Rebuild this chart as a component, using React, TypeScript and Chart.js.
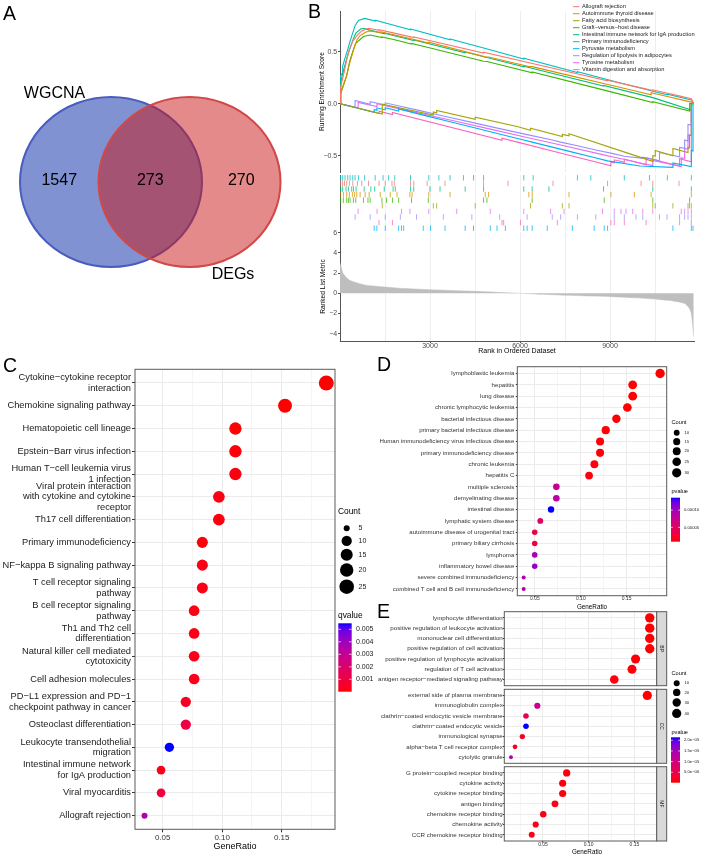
import { useEffect, useRef } from 'react';
import { Chart, registerables } from 'chart.js';

Chart.register(...registerables);

const W = 702;
const H = 858;
const FONT = '"Liberation Sans", Arial, Helvetica, sans-serif';
const MINUS = '\u2212';
Chart.defaults.font.family = FONT;

// ---------------- Panel A: WGCNA vs DEGs overlap ----------------
const vennSetNames = ['WGCNA', 'DEGs'];
const vennRegionCounts = [1547, 273, 270]; // WGCNA only, shared, DEGs only

// ---------------- Panel B: GSEA running enrichment ----------------
const gseaSetNames = [
  'Allograft rejection',
  'Autoimmune thyroid disease',
  'Fatty acid biosynthesis',
  'Graft\u2212versus\u2212host disease',
  'Intestinal immune network for IgA production',
  'Primary immunodeficiency',
  'Pyruvate metabolism',
  'Regulation of lipolysis in adipocytes',
  'Tyrosine metabolism',
  'Vitamin digestion and absorption',
];
const gseaColors = ['#F8766D', '#D89000', '#A3A500', '#39B600', '#00BF7D', '#00BFC4', '#00B0F6', '#9590FF', '#E76BF3', '#FF62BC'];

// running enrichment score: [rank, score]
const esAllograft = [[0,0],[22,0.16],[89,0.24],[150,0.32],[223,0.42],[313,0.52],[425,0.6],[581,0.66],[726,0.7],[950,0.725],[1301,0.705],[1301,0.712],[1810,0.678],[2458,0.635],[2458,0.642],[2905,0.612],[4786,0.487],[4786,0.494],[7100,0.34],[8919,0.219],[8919,0.226],[10036,0.152],[10427,0.126],[10427,0.133],[11300,0.075],[11711,0.048],[11790,0]];
const esAutoimmune = [[0,0],[0,0.08],[112,0.17],[223,0.27],[313,0.38],[413,0.48],[486,0.55],[559,0.61],[670,0.655],[838,0.685],[972,0.7],[1341,0.685],[1341,0.693],[2329,0.626],[2960,0.583],[2960,0.59],[4842,0.45],[4954,0.448],[6294,0.358],[6406,0.356],[7634,0.272],[9031,0.177],[9813,0.124],[10371,0.086],[10371,0.105],[10874,0.071],[11711,0.015],[11790,0]];
const esFattyAcid = [[0,0],[1410,-0.1],[1410,-0.005],[3110,-0.11],[3110,-0.08],[3222,-0.088],[3222,-0.065],[4507,-0.15],[4507,-0.13],[5903,-0.22],[6350,-0.255],[6350,-0.235],[7411,-0.315],[7411,-0.295],[7634,-0.31],[7634,-0.29],[10427,-0.555],[10427,-0.5],[10508,-0.505],[10508,-0.45],[11097,-0.5],[11097,-0.43],[11600,-0.47],[11600,-0.42],[11650,-0.425],[11650,-0.3],[11711,-0.305],[11711,0]];
const esGraft = [[0,0],[22,0.1],[112,0.18],[223,0.27],[279,0.35],[335,0.42],[447,0.52],[525,0.58],[782,0.645],[1005,0.66],[1397,0.635],[1397,0.642],[1748,0.62],[1955,0.605],[2384,0.574],[2384,0.58],[2943,0.54],[4786,0.408],[4898,0.406],[6406,0.298],[6406,0.304],[8807,0.13],[10427,0.012],[10427,0.018],[11655,-0.072],[11655,0],[11790,0]];
const esIntestinal = [[0,0],[22,0.2],[89,0.29],[201,0.41],[279,0.49],[391,0.58],[452,0.63],[536,0.68],[700,0.72],[805,0.722],[1028,0.705],[1475,0.672],[1475,0.678],[2458,0.606],[2458,0.612],[3334,0.55],[4172,0.49],[4172,0.496],[6126,0.354],[6126,0.36],[6964,0.3],[8785,0.17],[8785,0.176],[10427,0.058],[11711,-0.06],[11711,0],[11790,0]];
const esPrimaryImmuno = [[0,0],[22,0.27],[89,0.3],[89,0.36],[168,0.44],[257,0.52],[335,0.6],[425,0.68],[503,0.75],[615,0.8],[821,0.82],[1173,0.795],[1173,0.803],[2351,0.71],[2351,0.718],[3669,0.615],[3669,0.623],[4786,0.535],[6126,0.43],[6126,0.438],[7914,0.3],[7914,0.308],[9477,0.19],[10911,0.085],[10911,0.092],[11711,0.035],[11790,0]];
const esPyruvate = [[0,0],[1140,-0.083],[1140,-0.058],[1229,-0.064],[1229,-0.04],[1508,-0.06],[1508,-0.038],[1955,-0.07],[1955,-0.05],[2123,-0.062],[2775,-0.11],[3017,-0.127],[3501,-0.162],[4172,-0.21],[4451,-0.23],[5009,-0.27],[5512,-0.306],[6126,-0.35],[6406,-0.37],[6908,-0.406],[7746,-0.466],[8472,-0.518],[8919,-0.55],[10000,-0.6],[11097,-0.612],[11097,-0.57],[11711,-0.605],[11711,-0.45],[11767,-0.455],[11767,0]];
const esLipolysis = [[0,0],[503,-0.035],[503,0.03],[1005,-0.005],[1005,0.02],[1508,-0.012],[1508,0.008],[2011,-0.024],[2552,-0.06],[3446,-0.118],[4395,-0.18],[5322,-0.24],[6238,-0.298],[7076,-0.35],[7355,-0.37],[7914,-0.405],[8528,-0.445],[9142,-0.483],[9477,-0.505],[10092,-0.525],[10092,-0.515],[10650,-0.55],[10650,-0.47],[11320,-0.51],[11320,-0.42],[11488,-0.43],[11488,-0.35],[11600,-0.36],[11600,-0.2],[11711,-0.205],[11711,0]];
const esTyrosine = [[0,0],[604,-0.04],[604,0.012],[1235,-0.028],[1235,0],[2052,-0.055],[2332,-0.072],[2960,-0.112],[3892,-0.172],[5009,-0.245],[6126,-0.318],[7020,-0.376],[7467,-0.405],[8751,-0.49],[9142,-0.515],[9533,-0.54],[10092,-0.575],[10427,-0.595],[10427,-0.545],[11376,-0.605],[11376,-0.52],[11488,-0.528],[11488,-0.43],[11600,-0.437],[11600,-0.3],[11711,-0.307],[11711,0]];
const esVitamin = [[0,0],[1301,-0.095],[1301,-0.072],[1748,-0.105],[1748,-0.085],[5400,-0.352],[5400,-0.332],[6015,-0.377],[7243,-0.467],[9031,-0.597],[9031,-0.56],[9142,-0.568],[9142,-0.54],[9477,-0.564],[9477,-0.535],[10204,-0.588],[10204,-0.52],[11320,-0.6],[11320,-0.53],[11711,-0.558],[11711,0]];

// positions of member genes in the ranked list
const hitsAllograft = [22, 89, 150, 223, 313, 425, 581, 726, 950, 1301, 1508, 1732, 1810, 2351, 2458, 2905, 3500, 4786, 5600, 7100, 8919, 10036, 10427, 11300];
const hitsAutoimmune = [0, 112, 223, 313, 413, 486, 559, 670, 838, 972, 1341, 1676, 1899, 2329, 2402, 2960, 3669, 4842, 4954, 6294, 6406, 7634, 9031, 9813, 10371, 11711];
const hitsFattyAcid = [1410, 3110, 3222, 4507, 6350, 7411, 7634, 10427, 10508, 11097, 11600, 11650, 11711];
const hitsGraft = [22, 112, 223, 279, 335, 447, 525, 782, 932, 1005, 1397, 1547, 1748, 1955, 2384, 2943, 4786, 4898, 6406, 8807, 10427, 11655];
const hitsIntestinal = [22, 89, 201, 279, 391, 452, 536, 805, 1028, 1156, 1475, 1770, 1844, 2351, 2458, 2999, 3334, 4172, 4786, 6126, 6406, 6964, 8785, 10427, 11711];
const hitsPrimaryImmuno = [22, 89, 168, 257, 335, 425, 503, 615, 821, 1173, 1435, 1620, 1826, 2351, 2960, 3296, 3669, 4116, 4451, 4786, 6126, 6439, 7914, 8360, 9477, 10315, 10911, 11711];
const hitsPyruvate = [1140, 1229, 1508, 1955, 2049, 2123, 2775, 3017, 3501, 4172, 4451, 5009, 5233, 5512, 6126, 6238, 6406, 6908, 7746, 8472, 8807, 8919, 11097, 11711, 11767];
const hitsLipolysis = [503, 1005, 1508, 2011, 2552, 3446, 4395, 5322, 6238, 7076, 7355, 7914, 8528, 9142, 9477, 9868, 10092, 10650, 10900, 11320, 11488, 11600, 11711];
const hitsTyrosine = [604, 1235, 2052, 2332, 2960, 3892, 5009, 6126, 7020, 7467, 8751, 9142, 9366, 9533, 9757, 10092, 10427, 11376, 11488, 11600, 11711];
const hitsVitamin = [1301, 1748, 5400, 5456, 6015, 7243, 9031, 9142, 9477, 10204, 11320, 11711];

const esCurves = [esAllograft, esAutoimmune, esFattyAcid, esGraft, esIntestinal, esPrimaryImmuno, esPyruvate, esLipolysis, esTyrosine, esVitamin];
const hitSets = [hitsAllograft, hitsAutoimmune, hitsFattyAcid, hitsGraft, hitsIntestinal, hitsPrimaryImmuno, hitsPyruvate, hitsLipolysis, hitsTyrosine, hitsVitamin];
// row order of the hit strips, top to bottom (indices into gseaSetNames)
const hitRowOrder = [5, 0, 4, 1, 3, 2, 8, 7, 9, 6];

// ranked list metric
const metricRank = [0, 40, 95, 200, 318, 600, 877, 1400, 1994, 3000, 4500, 5400, 6000, 6600, 7500, 8400, 9030, 9900, 10600, 11100, 11488, 11650, 11711, 11750, 11790];
const metricValue = [3.0, 2.6, 2.0, 1.6, 1.3, 1.0, 0.8, 0.65, 0.5, 0.36, 0.2, 0.08, 0.0, -0.08, -0.18, -0.27, -0.33, -0.45, -0.6, -0.75, -1.0, -1.5, -2.0, -3.0, -4.3];

const rankGrid = [1500, 3000, 4500, 6000, 7500, 9000, 10500];
const rankLabeled = [3000, 6000, 9000];
const esTicks = [-0.5, 0, 0.5];
const metricTicks = [-4, -2, 0, 2, 4, 6];

// ---------------- Panel C: KEGG enrichment ----------------
const keggTerms = [
  ['Cytokine\u2212cytokine receptor', 'interaction'],
  'Chemokine signaling pathway',
  'Hematopoietic cell lineage',
  'Epstein\u2212Barr virus infection',
  ['Human T\u2212cell leukemia virus', '1 infection'],
  ['Viral protein interaction', 'with cytokine and cytokine', 'receptor'],
  'Th17 cell differentiation',
  'Primary immunodeficiency',
  'NF\u2212kappa B signaling pathway',
  ['T cell receptor signaling', 'pathway'],
  ['B cell receptor signaling', 'pathway'],
  ['Th1 and Th2 cell', 'differentiation'],
  ['Natural killer cell mediated', 'cytotoxicity'],
  'Cell adhesion molecules',
  ['PD\u2212L1 expression and PD\u22121', 'checkpoint pathway in cancer'],
  'Osteoclast differentiation',
  ['Leukocyte transendothelial', 'migration'],
  ['Intestinal immune network', 'for IgA production'],
  'Viral myocarditis',
  'Allograft rejection',
];
const keggRatio = [0.1875, 0.1528, 0.1111, 0.1111, 0.1111, 0.0972, 0.0972, 0.0833, 0.0833, 0.0833, 0.0764, 0.0764, 0.0764, 0.0764, 0.0694, 0.0694, 0.0556, 0.0486, 0.0486, 0.0347];
const keggCount = [27, 22, 16, 16, 16, 14, 14, 12, 12, 12, 11, 11, 11, 11, 10, 10, 8, 7, 7, 5];
const keggQ = [0.00001, 0.00002, 0.00004, 0.00012, 0.00015, 0.00019, 0.00014, 0.00009, 0.00022, 0.00021, 0.00024, 0.00026, 0.00025, 0.00033, 0.00046, 0.00108, 0.00548, 0.00027, 0.00096, 0.00362];
const keggQTicks = [0.001, 0.002, 0.003, 0.004, 0.005];
const keggCountKeys = [5, 10, 15, 20, 25];

// ---------------- Panel D: DO enrichment ----------------
const doTerms = [
  'lymphoblastic leukemia', 'hepatitis', 'lung disease', 'chronic lymphocytic leukemia',
  'bacterial infectious disease', 'primary bacterial infectious disease',
  'Human immunodeficiency virus infectious disease', 'primary immunodeficiency disease',
  'chronic leukemia', 'hepatitis C', 'multiple sclerosis', 'demyelinating disease',
  'intestinal disease', 'lymphatic system disease', 'autoimmune disease of urogenital tract',
  'primary biliary cirrhosis', 'lymphoma', 'inflammatory bowel disease',
  'severe combined immunodeficiency', 'combined T cell and B cell immunodeficiency',
];
const doRatio = [0.1865, 0.1566, 0.1566, 0.1508, 0.1388, 0.1272, 0.121, 0.121, 0.1148, 0.109, 0.0733, 0.0733, 0.0675, 0.0558, 0.0497, 0.0497, 0.0497, 0.0497, 0.0377, 0.0377];
const doCount = [32, 27, 27, 26, 24, 22, 21, 21, 20, 19, 13, 13, 12, 10, 9, 9, 9, 9, 7, 7];
const doP = [8.4e-6, 8.6e-6, 8.8e-6, 9.0e-6, 9.3e-6, 9.6e-6, 1.0e-5, 1.05e-5, 1.1e-5, 1.2e-5, 7.8e-5, 8.5e-5, 1.36e-4, 5.3e-5, 3.1e-5, 3.4e-5, 9.7e-5, 1.07e-4, 9.1e-5, 9.1e-5];
const doPTicks = [0.00005, 0.0001];
const doCountKeys = [10, 15, 20, 25, 30];

// ---------------- Panel E: GO enrichment ----------------
const goBPTerms = ['lymphocyte differentiation', 'positive regulation of leukocyte activation', 'mononuclear cell differentiation', 'positive regulation of cell activation', 'positive regulation of lymphocyte activation', 'regulation of T cell activation', 'antigen receptor\u2212mediated signaling pathway'];
const goBPRatio = [0.1667, 0.1667, 0.1667, 0.1667, 0.1512, 0.1473, 0.1279];
const goBPCount = [43, 43, 43, 43, 39, 38, 33];
const goBPP = [1.3e-7, 1.4e-7, 1.6e-7, 1.8e-7, 3.0e-7, 4.0e-7, 6.0e-7];

const goCCTerms = ['external side of plasma membrane', 'immunoglobulin complex', 'clathrin\u2212coated endocytic vesicle membrane', 'clathrin\u2212coated endocytic vesicle', 'immunological synapse', 'alpha\u2212beta T cell receptor complex', 'cytolytic granule'];
const goCCRatio = [0.164, 0.0438, 0.0314, 0.0314, 0.0274, 0.0194, 0.015];
const goCCCount = [41, 11, 8, 8, 7, 5, 4];
const goCCP = [2.0e-7, 1.08e-5, 5.4e-6, 2.14e-5, 1.8e-6, 1.2e-6, 1.46e-5];

const goMFTerms = ['G protein\u2212coupled receptor binding', 'cytokine activity', 'cytokine receptor binding', 'antigen binding', 'chemokine receptor binding', 'chemokine activity', 'CCR chemokine receptor binding'];
const goMFRatio = [0.0759, 0.0715, 0.0715, 0.0631, 0.0503, 0.042, 0.0377];
const goMFCount = [19, 18, 18, 16, 13, 11, 10];
const goMFP = [5e-7, 6e-7, 7e-7, 9e-7, 1.0e-6, 1.1e-6, 1.2e-6];
const goPTicks = [5e-6, 1e-5, 1.5e-5, 2e-5];
const goCountKeys = [10, 20, 30, 40];

// ---------------- helpers ----------------
function drawText(ctx: CanvasRenderingContext2D, str: string, x: number, y: number, size: number, o: any = {}) {
  ctx.save();
  ctx.font = `${size}px ${FONT}`;
  ctx.fillStyle = o.color || '#000';
  ctx.textAlign = o.align || 'left';
  ctx.textBaseline = o.baseline || 'middle';
  ctx.translate(x, y);
  if (o.rotate) ctx.rotate(o.rotate);
  ctx.fillText(str, 0, 0);
  ctx.restore();
}

function toLin(c: number) { c /= 255; return c <= 0.04045 ? c / 12.92 : Math.pow((c + 0.055) / 1.055, 2.4); }
function toSrgb(c: number) {
  const v = c <= 0.0031308 ? 12.92 * c : 1.055 * Math.pow(Math.max(c, 0), 1 / 2.4) - 0.055;
  return Math.round(Math.min(1, Math.max(0, v)) * 255);
}
function rgbToLab(rgb: number[]) {
  const [R, G, B] = rgb.map(toLin);
  const X = (0.4124 * R + 0.3576 * G + 0.1805 * B) / 0.95047;
  const Y = 0.2126 * R + 0.7152 * G + 0.0722 * B;
  const Z = (0.0193 * R + 0.1192 * G + 0.9505 * B) / 1.08883;
  const f = (t: number) => (t > 0.008856 ? Math.cbrt(t) : 7.787 * t + 16 / 116);
  const fx = f(X), fy = f(Y), fz = f(Z);
  return [116 * fy - 16, 500 * (fx - fy), 200 * (fy - fz)];
}
function labToRgb(lab: number[]) {
  const [L, a, b] = lab;
  const fy = (L + 16) / 116, fx = fy + a / 500, fz = fy - b / 200;
  const inv = (t: number) => (t * t * t > 0.008856 ? t * t * t : (t - 16 / 116) / 7.787);
  const X = 0.95047 * inv(fx), Y = inv(fy), Z = 1.08883 * inv(fz);
  return [
    toSrgb(3.2406 * X - 1.5372 * Y - 0.4986 * Z),
    toSrgb(-0.9689 * X + 1.8758 * Y + 0.0415 * Z),
    toSrgb(0.0557 * X - 0.204 * Y + 1.057 * Z),
  ];
}
const LAB_LOW = rgbToLab([255, 0, 0]);
const LAB_HIGH = rgbToLab([0, 0, 255]);
function gradientColor(t: number) {
  const u = Math.min(1, Math.max(0, t));
  const [r, g, b] = labToRgb(LAB_LOW.map((v, i) => v + (LAB_HIGH[i] - v) * u));
  return `rgb(${r},${g},${b})`;
}
function colorScale(values: number[]) {
  const lo = Math.min(...values), hi = Math.max(...values);
  return { lo, hi, fn: (v: number) => gradientColor((v - lo) / (hi - lo)) };
}
function sizeScale(counts: number[], rMin: number, rMax: number) {
  const lo = Math.min(...counts), hi = Math.max(...counts);
  return (n: number) => rMin + (rMax - rMin) * Math.sqrt(Math.max(0, (n - lo) / (hi - lo)));
}
function alpha(hex: string, a: number) {
  const n = parseInt(hex.slice(1), 16);
  return `rgba(${(n >> 16) & 255},${(n >> 8) & 255},${n & 255},${a})`;
}
function signed(v: number, digits: number) {
  if (v === 0) return (0).toFixed(digits);
  return (v < 0 ? MINUS : '') + Math.abs(v).toFixed(digits);
}
function sci(v: number) {
  const [m, e] = v.toExponential(1).split('e');
  const ev = parseInt(e, 10);
  return `${m}e${ev < 0 ? MINUS : '+'}${String(Math.abs(ev)).padStart(2, '0')}`;
}

const baseOptions = {
  animation: false,
  responsive: false,
  events: [],
  plugins: { legend: { display: false }, tooltip: { enabled: false } },
};

function drawLegend(ctx: CanvasRenderingContext2D, s: any) {
  drawText(ctx, 'Count', s.x, s.countTitleY, s.titleSize);
  let y = s.firstKeyY;
  let prev = 0;
  s.keys.forEach((k: number, i: number) => {
    const r = s.radius(k);
    const h = Math.max(s.minKeyH, 2 * r + s.keyPad);
    if (i > 0) y += (prev + h) / 2;
    prev = h;
    ctx.beginPath();
    ctx.arc(s.dotX, y, r, 0, Math.PI * 2);
    ctx.fillStyle = '#000';
    ctx.fill();
    drawText(ctx, String(k), s.labelX, y, s.labelSize, { color: '#222' });
  });
  drawText(ctx, s.colorTitle, s.x, s.colorTitleY, s.titleSize);
  const b = s.bar;
  const grad = ctx.createLinearGradient(0, b.y + b.h, 0, b.y);
  for (let i = 0; i <= 20; i++) grad.addColorStop(i / 20, gradientColor(i / 20));
  ctx.fillStyle = grad;
  ctx.fillRect(b.x, b.y, b.w, b.h);
  s.ticks.forEach((v: number, i: number) => {
    const py = b.y + b.h * (1 - (v - s.scale.lo) / (s.scale.hi - s.scale.lo));
    ctx.strokeStyle = 'rgba(255,255,255,0.85)';
    ctx.lineWidth = 0.8;
    ctx.beginPath();
    ctx.moveTo(b.x, py); ctx.lineTo(b.x + b.w / 5, py);
    ctx.moveTo(b.x + b.w * 4 / 5, py); ctx.lineTo(b.x + b.w, py);
    ctx.stroke();
    drawText(ctx, s.tickLabels[i], s.tickLabelX, py, s.labelSize, { color: '#222' });
  });
}

function panelBox(ctx: CanvasRenderingContext2D, a: any) {
  ctx.save();
  ctx.strokeStyle = '#5a5a5a';
  ctx.lineWidth = 1;
  ctx.strokeRect(a.left, a.top, a.right - a.left, a.bottom - a.top);
  ctx.restore();
}

// ---------------- dot plot builder (panels C, D, E) ----------------
function buildDotChart(canvas: HTMLCanvasElement, cfg: any) {
  const [L, T, R, B] = cfg.box;
  const n = cfg.terms.length;
  const xH = cfg.showX ? 12 : 0;
  const isMajor = (v: any) => cfg.xMajor.some((m: number) => Math.abs(m - v) < 1e-9);
  return new Chart(canvas, {
    type: 'scatter',
    data: {
      datasets: [{
        data: cfg.ratio.map((r: number, i: number) => ({ x: r, y: i + 1 })),
        pointRadius: (c: any) => cfg.radius(cfg.count[c.dataIndex]),
        pointHoverRadius: (c: any) => cfg.radius(cfg.count[c.dataIndex]),
        pointBackgroundColor: (c: any) => cfg.color(cfg.pval[c.dataIndex]),
        pointBorderWidth: 0,
        pointHoverBorderWidth: 0,
      }],
    },
    options: {
      ...baseOptions,
      layout: { autoPadding: false, padding: { left: 0, right: W - R, top: T, bottom: H - B - xH } },
      scales: {
        x: {
          type: 'linear', min: cfg.xMin, max: cfg.xMax, bounds: 'data',
          afterBuildTicks: (s: any) => { s.ticks = cfg.xTicks.map((v: number) => ({ value: v })); },
          afterFit: (s: any) => { s.height = xH; },
          ticks: {
            display: cfg.showX, autoSkip: false, maxRotation: 0, minRotation: 0, padding: 0,
            font: { family: FONT, size: cfg.xFont, lineHeight: cfg.xLine }, color: '#333',
            callback: (v: number) => (isMajor(v) ? v.toFixed(2) : ''),
          },
          grid: {
            color: (c: any) => (isMajor(c.tick && c.tick.value) ? '#EBEBEB' : '#F5F5F5'),
            lineWidth: 1, drawTicks: cfg.showX, tickLength: cfg.tickLen,
            tickColor: (c: any) => (isMajor(c.tick && c.tick.value) ? '#333' : 'rgba(0,0,0,0)'),
          },
          border: { display: false },
        },
        y: {
          type: 'linear', reverse: true, min: 0.4, max: n + 0.6, bounds: 'data',
          afterBuildTicks: (s: any) => { s.ticks = cfg.terms.map((_: any, i: number) => ({ value: i + 1 })); },
          afterFit: (s: any) => { s.width = L; },
          ticks: {
            autoSkip: false, padding: cfg.yPad, color: cfg.yColor,
            font: { family: FONT, size: cfg.yFont, lineHeight: cfg.yLine },
            callback: (v: number) => cfg.terms[Math.round(v) - 1],
          },
          grid: { color: '#EBEBEB', lineWidth: 1, drawTicks: true, tickLength: cfg.tickLen, tickColor: '#333' },
          border: { display: false },
        },
      },
    },
    plugins: [{
      id: 'dotDecor',
      afterDraw(chart: any) {
        const ctx = chart.ctx;
        const a = chart.chartArea;
        panelBox(ctx, a);
        if (cfg.strip) {
          ctx.save();
          ctx.fillStyle = '#D9D9D9';
          ctx.fillRect(a.right, a.top, cfg.strip.w, a.bottom - a.top);
          ctx.strokeStyle = '#5a5a5a';
          ctx.lineWidth = 1;
          ctx.strokeRect(a.right, a.top, cfg.strip.w, a.bottom - a.top);
          ctx.restore();
          drawText(ctx, cfg.strip.text, a.right + cfg.strip.w / 2, (a.top + a.bottom) / 2, 5, { align: 'center', rotate: Math.PI / 2, color: '#1A1A1A' });
        }
        if (cfg.extra) cfg.extra(chart, ctx);
      },
    }],
  } as any);
}

// ---------------- Panel A ----------------
const vennLayout = {
  radius: 91,
  centers: [111, 189.5],
  cy: 195,
  fills: ['rgba(1,37,165,0.5)', 'rgba(203,21,21,0.5)'],
  strokes: ['#4A5CBE', '#D24848'],
  nameOffsets: [[-56.5, -88], [43.5, 92.5]],
};

function buildVenn(canvas: HTMLCanvasElement) {
  return new Chart(canvas, {
    type: 'scatter',
    data: { datasets: [] },
    options: {
      ...baseOptions,
      layout: { autoPadding: false, padding: { left: 0, top: 0, right: W - 300, bottom: H - 280 } },
      scales: {
        x: { display: false, min: 0, max: 300 },
        y: { display: false, min: 0, max: 300, reverse: true },
      },
    },
    plugins: [{
      id: 'venn',
      afterDraw(chart: any) {
        const ctx = chart.ctx;
        const xs = chart.scales.x, ys = chart.scales.y;
        const r = vennLayout.radius;
        const cy = ys.getPixelForValue(vennLayout.cy);
        const ry = Math.abs(ys.getPixelForValue(vennLayout.cy + r) - cy);
        const circles = vennLayout.centers.map((c) => {
          const cx = xs.getPixelForValue(c);
          return { cx, rx: xs.getPixelForValue(c + r) - cx };
        });
        circles.forEach((c, i) => {
          ctx.beginPath();
          ctx.ellipse(c.cx, cy, c.rx, ry, 0, 0, Math.PI * 2);
          ctx.fillStyle = vennLayout.fills[i];
          ctx.fill();
          ctx.lineWidth = 2;
          ctx.strokeStyle = vennLayout.strokes[i];
          ctx.stroke();
        });
        const [p, q] = circles;
        const regionX = [
          (p.cx - p.rx + q.cx - q.rx) / 2,
          (q.cx - q.rx + p.cx + p.rx) / 2,
          (p.cx + p.rx + q.cx + q.rx) / 2,
        ];
        vennRegionCounts.forEach((v, i) => drawText(ctx, String(v), regionX[i], cy - 1.5, 16, { align: 'center' }));
        vennSetNames.forEach((name, i) => {
          const [dx, dy] = vennLayout.nameOffsets[i];
          drawText(ctx, name, circles[i].cx + dx, cy + dy, 16, { align: 'center' });
        });
        drawText(ctx, 'A', 3, 20, 19.5, { baseline: 'alphabetic' });
      },
    }],
  } as any);
}

// ---------------- Panel B ----------------
const B_LEFT = 340;
const B_RIGHT = 694;
const RANK_MAX = 11800;

function rankScale(showTicks: boolean, height: number) {
  return {
    type: 'linear', min: 0, max: RANK_MAX, bounds: 'data',
    afterBuildTicks: (s: any) => { s.ticks = rankGrid.map((v) => ({ value: v })); },
    afterFit: (s: any) => { s.height = height; },
    ticks: {
      display: showTicks, autoSkip: false, maxRotation: 0, minRotation: 0, padding: 0,
      font: { family: FONT, size: 7, lineHeight: 0.77 }, color: '#4D4D4D',
      callback: (v: number) => (rankLabeled.includes(v) ? String(v) : ''),
    },
    grid: {
      color: '#EEEEEE', lineWidth: 1, drawTicks: showTicks, tickLength: 2,
      tickColor: (c: any) => (rankLabeled.includes(c.tick && c.tick.value) ? '#4D4D4D' : 'rgba(0,0,0,0)'),
    },
    border: { display: showTicks, color: '#555', width: 1 },
  };
}

function leftAxis(min: number, max: number, ticks: number[] | null, fmt: (v: number) => string) {
  return {
    type: 'linear', min, max, bounds: 'data',
    afterBuildTicks: (s: any) => { s.ticks = (ticks || []).map((v) => ({ value: v })); },
    afterFit: (s: any) => { s.width = 30; },
    ticks: { display: !!ticks, padding: 0.8, font: { family: FONT, size: 7 }, color: '#4D4D4D', callback: fmt },
    grid: { drawOnChartArea: false, drawTicks: !!ticks, tickLength: 2, tickColor: '#4D4D4D' },
    border: { display: true, color: '#555', width: 1 },
  };
}

function buildEsChart(canvas: HTMLCanvasElement) {
  return new Chart(canvas, {
    type: 'line',
    data: {
      datasets: esCurves.map((curve, i) => ({
        label: gseaSetNames[i],
        data: curve.map(([x, y]) => ({ x, y })),
        borderColor: gseaColors[i],
        backgroundColor: gseaColors[i],
        borderWidth: 1.1,
        pointRadius: 0,
        fill: false,
        tension: 0,
      })),
    },
    options: {
      ...baseOptions,
      layout: { autoPadding: false, padding: { left: B_LEFT - 30, right: W - B_RIGHT, top: 11, bottom: H - 172 } },
      scales: {
        x: rankScale(false, 0),
        y: leftAxis(-0.657, 0.891, esTicks, (v) => signed(v, 1)),
      },
    },
    plugins: [{
      id: 'esDecor',
      afterDraw(chart: any) {
        const ctx = chart.ctx;
        gseaSetNames.forEach((name, i) => {
          const y = 6.7 + i * 7;
          ctx.strokeStyle = gseaColors[i];
          ctx.lineWidth = 1;
          ctx.beginPath();
          ctx.moveTo(573, y);
          ctx.lineTo(579.5, y);
          ctx.stroke();
          drawText(ctx, name, 582, y, 5.7, { color: '#1A1A1A' });
        });
        const a = chart.chartArea;
        drawText(ctx, 'Running Enrichment Score', 322.5, (a.top + a.bottom) / 2, 6.6, { align: 'center', rotate: -Math.PI / 2 });
        drawText(ctx, 'B', 308, 18.3, 19.5, { baseline: 'alphabetic' });
      },
    }],
  } as any);
}

function buildHitsChart(canvas: HTMLCanvasElement) {
  return new Chart(canvas, {
    type: 'scatter',
    data: {
      datasets: hitSets.map((hits, i) => ({
        data: hits.map((r) => ({ x: r, y: hitRowOrder.indexOf(i) })),
        pointStyle: 'line',
        rotation: 90,
        pointRadius: 2.7,
        pointBorderWidth: 1,
        pointBorderColor: alpha(gseaColors[i], 0.75),
        pointBackgroundColor: alpha(gseaColors[i], 0.75),
      })),
    },
    options: {
      ...baseOptions,
      layout: { autoPadding: false, padding: { left: B_LEFT - 30, right: W - B_RIGHT, top: 175, bottom: H - 231 } },
      scales: {
        x: rankScale(false, 0),
        y: { ...leftAxis(-0.5, gseaSetNames.length - 0.5, null, () => ''), reverse: true },
      },
    },
  } as any);
}

function buildMetricChart(canvas: HTMLCanvasElement) {
  return new Chart(canvas, {
    type: 'line',
    data: {
      datasets: [{
        data: metricRank.map((r, i) => ({ x: r, y: metricValue[i] })),
        borderColor: '#BEBEBE',
        backgroundColor: '#BEBEBE',
        borderWidth: 0.5,
        pointRadius: 0,
        fill: 'origin',
        tension: 0.2,
      }],
    },
    options: {
      ...baseOptions,
      layout: { autoPadding: false, padding: { left: B_LEFT - 30, right: W - B_RIGHT, top: 232, bottom: H - 341 - 12 } },
      scales: {
        x: rankScale(true, 12),
        y: leftAxis(-4.72, 6.07, metricTicks, (v) => signed(v, 0)),
      },
    },
    plugins: [{
      id: 'metricDecor',
      afterDraw(chart: any) {
        const ctx = chart.ctx;
        const a = chart.chartArea;
        drawText(ctx, 'Ranked List Metric', 323, (a.top + a.bottom) / 2, 6.6, { align: 'center', rotate: -Math.PI / 2 });
        drawText(ctx, 'Rank in Ordered Dataset', (a.left + a.right) / 2, 350.7, 7, { align: 'center' });
      },
    }],
  } as any);
}

// ---------------- Panel C ----------------
const keggColor = colorScale(keggQ);
const keggSize = sizeScale(keggCount, 3, 7.5);

function buildKegg(canvas: HTMLCanvasElement) {
  return buildDotChart(canvas, {
    terms: keggTerms, ratio: keggRatio, count: keggCount, pval: keggQ,
    box: [135, 369.3, 335, 829.3],
    xMin: 0.0267, xMax: 0.1948, xTicks: [0.05, 0.075, 0.1, 0.125, 0.15, 0.175], xMajor: [0.05, 0.1, 0.15],
    showX: true, xFont: 8, xLine: 1.35, tickLen: 3,
    yFont: 9.3, yLine: 1.13, yPad: 1, yColor: '#1A1A1A',
    radius: keggSize, color: keggColor.fn,
    extra: (chart: any, ctx: CanvasRenderingContext2D) => {
      const a = chart.chartArea;
      drawText(ctx, 'GeneRatio', (a.left + a.right) / 2, 846.7, 9, { align: 'center' });
      drawText(ctx, 'C', 3, 371.7, 19.5, { baseline: 'alphabetic' });
      drawLegend(ctx, {
        x: 338, countTitleY: 512, titleSize: 8.4, labelSize: 7,
        keys: keggCountKeys, firstKeyY: 528.3, minKeyH: 12.4, keyPad: 2.6,
        dotX: 346.7, labelX: 358.5, radius: keggSize,
        colorTitle: 'qvalue', colorTitleY: 615.5,
        bar: { x: 338.3, y: 623.3, w: 13.4, h: 68.4 }, scale: keggColor,
        ticks: keggQTicks, tickLabels: keggQTicks.map((v) => v.toFixed(3)), tickLabelX: 356,
      });
    },
  });
}

// ---------------- Panel D ----------------
const doColor = colorScale(doP);
const doSize = sizeScale(doCount, 2, 4.7);

function buildDo(canvas: HTMLCanvasElement) {
  return buildDotChart(canvas, {
    terms: doTerms, ratio: doRatio, count: doCount, pval: doP,
    box: [517.3, 366.7, 666.7, 595.7],
    xMin: 0.0307, xMax: 0.1937, xTicks: [0.05, 0.075, 0.1, 0.125, 0.15, 0.175], xMajor: [0.05, 0.1, 0.15],
    showX: true, xFont: 5, xLine: 0.55, tickLen: 1.5,
    yFont: 6.1, yLine: 1.2, yPad: 1.5, yColor: '#333',
    radius: doSize, color: doColor.fn,
    extra: (chart: any, ctx: CanvasRenderingContext2D) => {
      const a = chart.chartArea;
      drawText(ctx, 'GeneRatio', (a.left + a.right) / 2, 607.7, 6.3, { align: 'center' });
      drawText(ctx, 'D', 377, 371, 19.5, { baseline: 'alphabetic' });
      drawLegend(ctx, {
        x: 671.5, countTitleY: 422.7, titleSize: 5.6, labelSize: 4.2,
        keys: doCountKeys, firstKeyY: 432.7, minKeyH: 8.6, keyPad: 2.2,
        dotX: 676.7, labelX: 684.5, radius: doSize,
        colorTitle: 'pvalue', colorTitleY: 491.7,
        bar: { x: 671, y: 497.7, w: 9, h: 44 }, scale: doColor,
        ticks: doPTicks, tickLabels: doPTicks.map((v) => v.toFixed(5)), tickLabelX: 684,
      });
    },
  });
}

// ---------------- Panel E ----------------
const goColor = colorScale([...goBPP, ...goCCP, ...goMFP]);
const goSize = sizeScale([...goBPCount, ...goCCCount, ...goMFCount], 1.9, 4.7);
const goX = { xMin: 0.0077, xMax: 0.1743, xTicks: [0.025, 0.05, 0.075, 0.1, 0.125, 0.15], xMajor: [0.05, 0.1, 0.15] };
const goY = { yFont: 6.2, yLine: 1.2, yPad: 0, yColor: '#333', tickLen: 1.5 };

function buildGoBP(canvas: HTMLCanvasElement) {
  return buildDotChart(canvas, {
    terms: goBPTerms, ratio: goBPRatio, count: goBPCount, pval: goBPP,
    box: [504.3, 611.7, 656.7, 685.7], ...goX, ...goY, showX: false, xFont: 5, xLine: 1,
    radius: goSize, color: goColor.fn, strip: { text: 'BP', w: 10 },
    extra: (_c: any, ctx: CanvasRenderingContext2D) => {
      drawText(ctx, 'E', 377, 618.3, 19.5, { baseline: 'alphabetic' });
      drawLegend(ctx, {
        x: 671.5, countTitleY: 673.3, titleSize: 5.6, labelSize: 4.2,
        keys: goCountKeys, firstKeyY: 683.3, minKeyH: 8.6, keyPad: 2.2,
        dotX: 676.7, labelX: 684.5, radius: goSize,
        colorTitle: 'pvalue', colorTitleY: 732.7,
        bar: { x: 671, y: 737.3, w: 9, h: 45.4 }, scale: goColor,
        ticks: goPTicks, tickLabels: goPTicks.map(sci), tickLabelX: 684,
      });
    },
  });
}

function buildGoCC(canvas: HTMLCanvasElement) {
  return buildDotChart(canvas, {
    terms: goCCTerms, ratio: goCCRatio, count: goCCCount, pval: goCCP,
    box: [504.3, 689.3, 656.7, 763.3], ...goX, ...goY, showX: false, xFont: 5, xLine: 1,
    radius: goSize, color: goColor.fn, strip: { text: 'CC', w: 10 },
  });
}

function buildGoMF(canvas: HTMLCanvasElement) {
  return buildDotChart(canvas, {
    terms: goMFTerms, ratio: goMFRatio, count: goMFCount, pval: goMFP,
    box: [504.3, 766.7, 656.7, 841], ...goX, ...goY, showX: true, xFont: 5, xLine: 1,
    radius: goSize, color: goColor.fn, strip: { text: 'MF', w: 10 },
    extra: (_c: any, ctx: CanvasRenderingContext2D) => {
      drawText(ctx, 'GeneRatio', 587, 852.7, 6.3, { align: 'center' });
    },
  });
}

const layers = [buildVenn, buildEsChart, buildHitsChart, buildMetricChart, buildKegg, buildDo, buildGoBP, buildGoCC, buildGoMF];

function ChartLayer({ build }: { build: (c: HTMLCanvasElement) => Chart }) {
  const ref = useRef<HTMLCanvasElement>(null);
  useEffect(() => {
    const chart = build(ref.current as HTMLCanvasElement);
    return () => chart.destroy();
  }, [build]);
  return (
    <canvas
      ref={ref}
      width={W}
      height={H}
      style={{ position: 'absolute', left: 0, top: 0, width: W, height: H }}
    />
  );
}

export default function App() {
  return (
    <div style={{ position: 'absolute', left: 0, top: 0, width: W, height: H, background: '#fff', overflow: 'hidden' }}>
      {layers.map((b, i) => (
        <ChartLayer key={i} build={b} />
      ))}
    </div>
  );
}
